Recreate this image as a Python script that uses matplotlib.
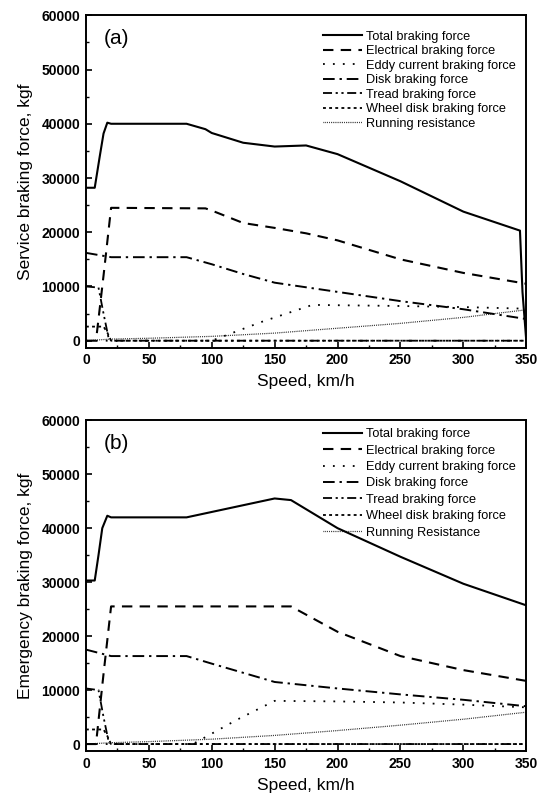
import matplotlib
matplotlib.use("Agg")
import matplotlib.pyplot as plt
from matplotlib.ticker import MultipleLocator

plt.rcParams['font.family'] = ['Liberation Sans', 'DejaVu Sans']

# ---- (a) service braking ----
a_total_v = [0, 7, 11, 14, 17, 20, 80, 95, 100, 125, 150, 175, 200, 250, 300, 345, 347, 350]
a_total_f = [28200, 28200, 34000, 38200, 40200, 40000, 40000, 39000, 38300, 36500, 35800, 36000, 34400, 29400, 23800, 20300, 9000, 0]

a_elec_v = [0, 8, 14, 20, 95, 100, 125, 150, 175, 200, 250, 300, 350]
a_elec_f = [0, 0, 12000, 24500, 24400, 24000, 21700, 20800, 19800, 18500, 15000, 12500, 10500]

a_eddy_v = [0, 100, 140, 180, 250, 300, 350]
a_eddy_f = [0, 0, 3500, 6600, 6400, 6200, 5900]

a_disk_v = [0, 15, 20, 80, 100, 125, 150, 200, 250, 300, 350]
a_disk_f = [16200, 15600, 15400, 15400, 14100, 12300, 10700, 9000, 7300, 5800, 4000]

a_tread_v = [0, 10, 14, 18, 20, 350]
a_tread_f = [10000, 9800, 5000, 500, 0, 0]

a_wheel_v = [0, 14, 17, 20, 350]
a_wheel_f = [2600, 2600, 1500, 0, 0]

a_resist_v = [0, 20, 50, 100, 150, 200, 250, 300, 350]
a_resist_f = [0, 300, 450, 800, 1400, 2300, 3200, 4300, 5700]

# ---- (b) emergency braking ----
b_total_v = [0, 7, 10, 13, 17, 20, 80, 150, 163, 200, 250, 300, 350]
b_total_f = [30300, 30300, 35000, 40000, 42300, 42000, 42000, 45500, 45200, 40000, 34700, 29700, 25700]

b_elec_v = [0, 8, 14, 20, 163, 200, 250, 300, 350]
b_elec_f = [0, 0, 13000, 25500, 25500, 20800, 16300, 13700, 11700]

b_eddy_v = [0, 85, 120, 150, 200, 250, 300, 350]
b_eddy_f = [0, 0, 4500, 8000, 7900, 7700, 7300, 6800]

b_disk_v = [0, 15, 20, 80, 100, 150, 175, 200, 250, 300, 350]
b_disk_f = [17500, 16600, 16300, 16300, 14900, 11500, 10900, 10300, 9200, 8200, 7000]

b_tread_v = [0, 10, 14, 18, 20, 350]
b_tread_f = [10300, 10000, 5000, 500, 0, 0]

b_wheel_v = [0, 14, 17, 20, 350]
b_wheel_f = [2700, 2700, 1500, 0, 0]

b_resist_v = [0, 20, 50, 100, 150, 200, 250, 300, 350]
b_resist_f = [0, 250, 450, 900, 1600, 2500, 3500, 4600, 5900]

labels_a = ["Total braking force", "Electrical braking force", "Eddy current braking force",
            "Disk braking force", "Tread braking force", "Wheel disk braking force",
            "Running resistance"]
labels_b = labels_a[:-1] + ["Running Resistance"]

styles = [
    dict(ls='-', lw=1.5),
    dict(ls=(0, (5, 3.5)), lw=1.5),
    dict(ls=(0, (1, 4.5)), lw=1.3),
    dict(ls=(0, (6, 2.5, 1.2, 2.5)), lw=1.4),
    dict(ls=(0, (5, 2, 1.2, 2, 1.2, 2)), lw=1.3),
    dict(ls=(0, (1.6, 1.8)), lw=1.3),
    dict(ls=(0, (0.6, 0.9)), lw=0.9),
]

fig = plt.figure(figsize=(5.37, 8.05), dpi=100)
ax_a = fig.add_axes([0.160, 0.568, 0.820, 0.413])
ax_b = fig.add_axes([0.160, 0.067, 0.820, 0.411])

def draw(ax, series, labels, tag, ylabel, leg_top, leg_space):
    for (v, f), lab, st in zip(series, labels, styles):
        ax.plot(v, f, color='black', label=lab, **st)
    ax.set_xlim(0, 350)
    ax.set_ylim(-1300, 60000)
    ax.xaxis.set_major_locator(MultipleLocator(50))
    ax.xaxis.set_minor_locator(MultipleLocator(25))
    ax.yaxis.set_major_locator(MultipleLocator(10000))
    ax.yaxis.set_minor_locator(MultipleLocator(5000))
    ax.tick_params(which='both', direction='in', top=False, right=False)
    ax.tick_params(which='major', length=4, width=1.2, labelsize=10, pad=4)
    ax.tick_params(which='minor', length=2.5, width=1.0)
    for lbl in ax.get_xticklabels() + ax.get_yticklabels():
        lbl.set_fontweight('bold')
    for sp in ax.spines.values():
        sp.set_linewidth(1.4)
    ax.set_xlabel("Speed, km/h", fontsize=12.5, labelpad=5)
    ax.set_ylabel(ylabel, fontsize=12.5, labelpad=6)
    ax.text(0.04, 0.93, tag, transform=ax.transAxes, fontsize=15, va='center', ha='left')
    ax.legend(loc='upper right', bbox_to_anchor=(1.0, leg_top), frameon=False,
              fontsize=9.2, handlelength=3.1, handletextpad=0.3,
              labelspacing=leg_space, borderaxespad=0.4)

draw(ax_a, [(a_total_v, a_total_f), (a_elec_v, a_elec_f), (a_eddy_v, a_eddy_f),
            (a_disk_v, a_disk_f), (a_tread_v, a_tread_f), (a_wheel_v, a_wheel_f),
            (a_resist_v, a_resist_f)], labels_a, "(a)", "Service braking force, kgf",
     0.985, 0.2)
draw(ax_b, [(b_total_v, b_total_f), (b_elec_v, b_elec_f), (b_eddy_v, b_eddy_f),
            (b_disk_v, b_disk_f), (b_tread_v, b_tread_f), (b_wheel_v, b_wheel_f),
            (b_resist_v, b_resist_f)], labels_b, "(b)", "Emergency braking force, kgf",
     1.006, 0.34)

fig.savefig("out.png", dpi=100)
